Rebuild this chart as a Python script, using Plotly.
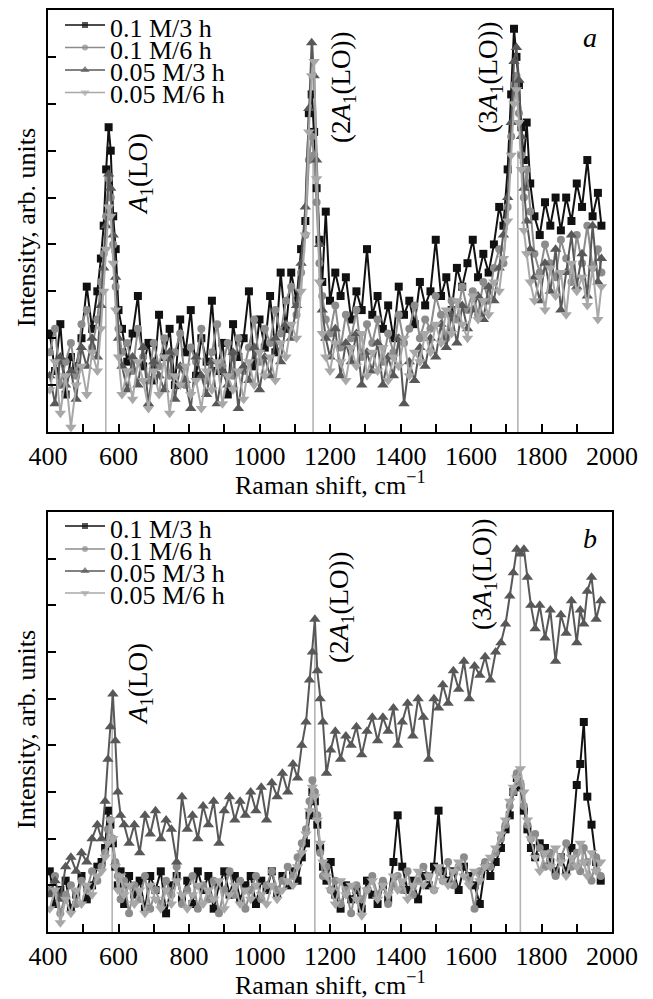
import plotly.graph_objects as go

W, H = 653, 999

# ---------------- Panel a data (arb. units) ----------------
a_x = [405, 420, 435, 450, 465, 480, 495, 510, 525, 540,
       550, 558, 565, 572, 578, 585, 592, 600, 610, 625,
       640, 655, 670, 685, 700, 715, 730, 745, 760, 775,
       790, 805, 820, 835, 850, 865, 880, 895, 910, 925,
       940, 955, 970, 985, 1000, 1015, 1030, 1045, 1060, 1075,
       1090, 1105, 1118, 1130, 1140, 1148, 1155, 1162, 1170, 1178,
       1188, 1200, 1215, 1230, 1245, 1260, 1275, 1290, 1305, 1320,
       1335, 1350, 1365, 1380, 1395, 1410, 1425, 1440, 1455, 1470,
       1485, 1500, 1515, 1530, 1545, 1560, 1575, 1590, 1605, 1620,
       1635, 1650, 1665, 1680, 1692, 1704, 1714, 1722, 1729, 1736,
       1743, 1750, 1758, 1768, 1780, 1795, 1810, 1825, 1840, 1855,
       1870, 1885, 1900, 1915, 1930, 1945, 1960, 1970]

a_01M_3h = [2.1, 1.3, 2.3, 0.8, 1.6, 1.4, 2.0, 3.1, 2.2, 3.0,
            3.7, 4.4, 5.6, 6.5, 6.0, 4.6, 3.9, 2.6, 2.2, 1.5,
            2.1, 2.9, 1.4, 1.9, 1.1, 2.5, 1.6, 2.2, 1.0, 2.4,
            1.7, 2.6, 1.2, 2.0, 1.5, 2.8, 1.3, 1.9, 0.8, 2.3,
            1.6, 2.0, 3.0, 1.4, 2.4, 1.8, 2.9, 1.7, 3.4, 2.2,
            3.4, 2.8, 3.9, 4.5, 6.8, 7.2, 6.4, 5.2, 4.1, 3.2,
            4.7, 2.8, 3.4, 2.9, 3.3, 2.4, 3.0, 2.6, 3.9, 2.5,
            2.9, 2.2, 2.7, 2.0, 3.1, 2.5, 2.8, 2.3, 3.2, 2.7,
            3.0, 4.1, 2.9, 3.3, 2.6, 3.5, 3.1, 3.6, 4.1, 3.3,
            3.8, 3.4, 4.0, 4.8, 4.4, 5.6, 7.2, 8.6, 8.0, 7.4,
            6.5, 5.8, 6.6, 5.3, 4.6, 4.2, 4.9, 4.4, 5.0, 4.3,
            5.0, 4.5, 5.3, 4.8, 5.8, 4.6, 5.1, 4.4]

a_01M_6h = [1.7, 2.2, 1.0, 1.5, 1.9, 1.2, 2.3, 2.6, 1.8, 2.4,
            3.2, 3.8, 4.6, 5.4, 5.0, 4.0, 3.1, 2.2, 1.7, 1.9,
            1.3, 2.2, 1.6, 1.1, 1.9, 1.4, 2.0, 1.2, 1.7, 2.1,
            1.0, 1.8, 1.5, 2.2, 1.1, 1.7, 2.3, 1.4, 1.9, 1.2,
            2.0, 1.3, 1.8, 2.4, 1.5, 2.2, 1.9, 2.6, 2.1, 2.8,
            3.1, 2.5, 3.4, 4.2, 5.8, 6.3, 5.9, 4.9, 3.6, 2.9,
            2.4, 2.1, 2.7, 1.8, 2.5, 2.0, 2.6, 1.6, 2.3, 1.9,
            2.4, 1.5, 2.1, 1.7, 2.5, 1.9, 2.2, 2.7, 2.0, 2.4,
            2.2, 2.9, 2.5, 2.0, 2.8, 2.4, 3.1, 2.6, 3.0, 2.5,
            3.2, 2.8, 3.5, 3.9, 3.6, 4.8, 6.3, 7.4, 7.6, 6.8,
            5.9, 5.0, 5.6, 4.7, 3.8, 3.4, 4.0, 3.6, 3.3, 4.1,
            3.7, 3.2, 4.2, 3.6, 4.4, 3.5, 3.9, 3.4]

a_005M_3h = [1.2, 0.6, 1.6, 1.0, 1.3, 0.7, 1.8, 1.4, 2.0, 1.6,
             2.7, 3.5, 4.4, 5.5, 5.2, 4.2, 3.3, 2.0, 1.4, 0.9,
             1.6, 1.0, 1.8, 0.6, 1.5, 1.2, 0.9, 1.7, 0.7, 1.4,
             1.1, 0.5, 1.6, 1.2, 0.8, 1.5, 0.6, 1.3, 1.0, 1.7,
             0.5, 1.4, 1.1, 1.8, 0.9, 1.6, 1.2, 2.0, 1.5, 2.3,
             2.0, 2.7, 3.6, 4.8, 6.9, 8.3, 7.6, 5.8, 4.0, 2.6,
             2.0, 1.6, 2.2, 1.2, 1.9, 1.5, 2.1, 1.0, 1.7, 1.3,
             1.9, 1.0, 1.6, 1.2, 2.0, 0.6, 1.5, 1.1, 1.8, 1.4,
             2.0, 1.6, 2.3, 1.8, 2.5, 1.9, 2.7, 2.2, 2.6, 2.9,
             2.4, 3.1, 2.8, 3.5, 4.2, 5.0, 6.6, 7.9, 8.2, 7.5,
             6.3, 5.2, 4.5, 3.9, 3.3, 2.8, 3.6, 3.0, 3.9, 2.6,
             3.4, 4.2, 3.1, 3.8, 2.9, 4.4, 3.2, 3.7]

a_005M_6h = [0.9, 1.5, 0.4, 1.2, 0.1, 1.0, 1.4, 0.8, 1.7, 1.3,
             2.2, 3.0, 3.9, 4.8, 4.6, 3.6, 2.6, 1.6, 0.8, 1.3,
             0.7, 1.5, 1.1, 0.5, 1.3, 0.8, 1.6, 0.4, 1.2, 1.0,
             1.4, 0.8, 1.1, 0.5, 1.3, 0.9, 1.5, 0.6, 1.2, 0.9,
             1.3, 0.7, 1.5, 1.0, 1.7, 1.2, 1.6, 1.1, 1.9, 1.6,
             2.3, 2.0, 3.0, 4.2, 6.4, 7.6, 7.9, 5.4, 3.2, 2.1,
             1.6, 1.3, 1.9, 1.5, 1.1, 1.8, 1.4, 2.1, 1.2, 1.7,
             1.3, 1.8, 1.1, 1.6, 1.4, 2.0, 1.2, 1.7, 1.5, 2.1,
             1.7, 2.3, 1.9, 2.6, 2.1, 2.8, 2.3, 2.0, 2.9, 2.4,
             2.8, 2.5, 3.2, 3.0, 3.7, 4.5, 5.9, 7.0, 7.3, 6.6,
             5.6, 4.3, 3.8, 3.2, 2.8, 3.3, 2.6, 3.5, 2.9, 3.4,
             2.5, 3.6, 3.0, 3.3, 2.7, 3.5, 2.4, 3.1]

a_spike_x = [564, 1152, 1733]
a_spike_top = [3.0, 8.3, 6.0]

# ---------------- Panel b data (arb. units) ----------------
b_x = [405, 420, 435, 450, 465, 480, 495, 510, 525, 540,
       552, 562, 570, 577, 584, 591, 598, 606, 616, 630,
       645, 660, 675, 690, 705, 720, 735, 750, 765, 780,
       795, 810, 825, 840, 855, 870, 885, 900, 915, 930,
       945, 960, 975, 990, 1005, 1020, 1035, 1050, 1065, 1080,
       1095, 1108, 1120, 1132, 1142, 1150, 1157, 1164, 1172, 1180,
       1190, 1202, 1215, 1230, 1245, 1260, 1275, 1290, 1305, 1320,
       1335, 1350, 1365, 1380, 1392, 1405, 1420, 1435, 1450, 1465,
       1480, 1495, 1508, 1520, 1535, 1550, 1565, 1580, 1595, 1610,
       1625, 1640, 1655, 1670, 1685, 1698, 1710, 1720, 1730, 1740,
       1750, 1760, 1770, 1782, 1795, 1810, 1825, 1840, 1855, 1870,
       1885, 1900, 1910, 1920, 1930, 1942, 1955, 1968]

b_01M_3h = [1.3, 0.6, 0.9, 1.1, 0.5, 0.8, 1.2, 0.7, 1.0, 1.4,
            1.5, 1.8, 2.6, 2.3, 1.9, 1.4, 1.0, 1.3, 0.6, 1.2,
            0.8, 1.1, 0.5, 1.2, 0.9, 1.3, 0.4, 1.0, 1.2, 0.7,
            1.1, 0.6, 1.3, 0.9, 1.2, 0.5, 1.0, 1.3, 0.8, 1.2,
            0.7, 1.0, 1.2, 0.6, 1.1, 0.9, 1.3, 0.8, 1.2, 1.0,
            1.3, 1.1, 1.6, 1.9, 2.5, 3.0, 2.8, 2.3, 1.8, 1.4,
            1.1, 1.5, 0.8, 0.5, 1.0, 0.7, 0.9, 0.5, 1.1, 0.8,
            0.6, 1.0, 0.7, 1.5, 2.5, 1.4, 0.9, 1.1, 0.7, 1.2,
            1.0, 1.4, 2.6, 1.3, 1.1, 1.3, 0.9, 1.4, 1.2, 1.0,
            0.6, 1.4, 1.2, 1.5, 1.8, 2.2, 2.5, 3.0, 3.3, 3.1,
            2.6, 2.2, 1.8, 1.6, 1.9, 1.8, 1.5, 1.3, 1.6, 1.3,
            1.8, 3.15, 3.6, 4.5, 2.9, 2.3, 1.5, 1.1]

b_01M_6h = [0.9, 1.2, 0.4, 0.8, 1.0, 0.6, 1.1, 0.9, 1.3, 1.1,
            1.4, 1.7, 2.2, 2.4, 2.0, 1.5, 1.2, 0.7, 1.1, 0.4,
            1.0, 0.7, 1.2, 0.5, 0.9, 0.6, 1.1, 0.8, 1.4, 0.6,
            0.9, 1.2, 0.5, 1.0, 0.7, 1.1, 0.4, 0.9, 1.3, 0.8,
            1.1, 0.5, 0.9, 1.2, 0.7, 1.0, 1.3, 0.9, 1.1, 1.4,
            1.2, 1.6, 1.9, 2.2, 2.8, 3.25, 3.0, 2.5, 1.7, 1.2,
            1.4, 0.9, 1.1, 0.6, 0.9, 0.4, 1.0, 0.7, 0.9, 1.2,
            0.8, 1.1, 0.6, 1.0, 1.2, 0.9, 1.3, 0.8, 1.1, 1.4,
            1.2, 0.9, 1.3, 1.1, 1.5, 1.0, 1.4, 1.6, 1.1, 0.5,
            1.3, 1.5, 1.4, 1.7, 2.0, 2.3, 2.7, 3.0, 3.4, 3.2,
            2.7, 2.3, 2.0, 2.1, 1.8, 1.4, 1.7, 1.2, 1.6, 1.9,
            1.4, 1.7, 1.3, 1.8, 1.5, 1.1, 1.6, 1.2]

b_005M_3h = [0.8, 1.1, 0.7, 1.4, 1.6, 1.3, 1.7, 1.5, 2.0, 2.3,
             2.0, 2.8, 3.7, 4.4, 5.1, 4.1, 3.0, 2.5, 2.3, 1.9,
             2.3, 1.7, 2.5, 2.1, 2.6, 2.0, 2.4, 2.2, 1.5, 2.9,
             2.2, 2.5, 2.0, 2.7, 2.3, 2.8, 1.9, 2.6, 2.9, 2.4,
             2.8, 2.5, 3.0, 2.6, 3.1, 2.4, 3.2, 2.9, 3.4, 3.0,
             3.6, 3.3, 4.0, 4.5, 5.4, 6.0, 6.7, 5.6, 5.0, 4.5,
             3.4, 3.9, 4.3, 3.7, 4.2, 4.0, 4.4, 3.8, 4.3, 4.6,
             4.1, 4.6, 4.3, 4.8, 4.0, 4.5, 4.9, 4.2, 5.0, 4.6,
             3.7, 5.0, 4.8, 5.3, 4.9, 5.6, 5.2, 5.8, 5.0, 5.7,
             5.5, 5.9, 5.4, 6.0, 6.2, 6.6, 7.2, 7.7, 8.2, 8.1,
             8.2, 7.6, 7.0, 6.5, 7.0, 6.3, 6.9, 5.8, 6.8, 6.4,
             7.1, 6.2, 6.9, 6.6, 7.3, 7.6, 6.7, 7.1]

b_005M_6h = [0.5, 0.9, 0.2, 0.7, 0.4, 0.9, 0.6, 1.0, 0.8, 1.2,
             1.3, 1.6, 1.9, 2.4, 2.0, 1.4, 0.9, 1.2, 0.8, 1.0,
             0.6, 0.9, 0.4, 1.0, 0.7, 0.5, 0.9, 0.6, 1.1, 0.8,
             0.5, 0.8, 1.0, 0.6, 0.9, 0.7, 1.1, 0.5, 0.8, 1.0,
             0.6, 0.9, 0.7, 1.0, 0.8, 0.6, 1.0, 0.7, 0.9, 1.1,
             1.0, 1.4, 1.7, 2.1, 2.6, 3.1, 2.9, 2.4, 1.9, 1.5,
             1.2, 0.9, 0.6, 1.1, 0.8, 1.0, 0.7, 0.35, 0.9, 1.1,
             0.7, 1.0, 0.8, 1.2, 0.9, 1.1, 0.7, 1.0, 1.3, 1.0,
             1.2, 0.9, 1.4, 1.1, 1.0, 1.3, 1.5, 1.2, 1.0, 1.3,
             1.1, 1.4, 1.6, 1.8, 2.1, 2.4, 2.8, 3.1, 3.3, 3.5,
             3.0, 2.4, 2.0, 1.6, 1.3, 1.7, 1.4, 1.8, 1.5, 1.2,
             1.6, 1.4, 1.9, 1.5, 1.2, 1.7, 1.3, 1.5]

b_spike_x = [582, 1157, 1740]
b_spike_top = [5.1, 6.7, 8.2]

# ---------------- styling ----------------
series_names = ["0.1 M/3 h", "0.1 M/6 h", "0.05 M/3 h", "0.05 M/6 h"]
colors = ["#111111", "#8c8c8c", "#585858", "#a8a8a8"]
symbols = ["square", "circle", "triangle-up", "triangle-down"]
msizes = [8, 8, 10, 10]
FONT = "Liberation Serif"

panels = [
    (a_x, [a_01M_3h, a_01M_6h, a_005M_3h, a_005M_6h], a_spike_x, a_spike_top, "x", "y"),
    (b_x, [b_01M_3h, b_01M_6h, b_005M_3h, b_005M_6h], b_spike_x, b_spike_top, "x2", "y2"),
]

fig = go.Figure()
for xs, ylist, sx, stop, xa, ya in panels:
    vx, vy = [], []
    for px_, top in zip(sx, stop):
        vx += [px_, px_, None]
        vy += [0, top, None]
    fig.add_trace(go.Scatter(x=vx, y=vy, mode="lines", xaxis=xa, yaxis=ya,
                             line=dict(color="#b4b4b4", width=1.6),
                             showlegend=False, hoverinfo="skip"))
    for name, ys, c, s, ms in zip(series_names, ylist, colors, symbols, msizes):
        fig.add_trace(go.Scatter(x=xs, y=ys, mode="lines+markers", name=name,
                                 xaxis=xa, yaxis=ya, showlegend=False,
                                 line=dict(color=c, width=2),
                                 marker=dict(symbol=s, size=ms, color=c,
                                             line=dict(width=0))))

# ---------------- custom legend (pixel overlay axis) ----------------
legend_rows = {"a": [25, 47.5, 70, 92.5], "b": [526, 549, 571, 593]}
legend_text_rows = {"a": [28, 50, 72, 94], "b": [529, 551, 573.5, 595]}
for key in ["a", "b"]:
    for i, (name, c, s, ms) in enumerate(zip(series_names, colors, symbols, msizes)):
        yy = legend_rows[key][i]
        fig.add_trace(go.Scatter(x=[65, 85, 105], y=[yy, yy, yy], mode="lines+markers",
                                 xaxis="x3", yaxis="y3", showlegend=False, hoverinfo="skip",
                                 line=dict(color=c, width=1.6),
                                 marker=dict(symbol=s, size=[0, ms - 2, 0], color=c,
                                             line=dict(width=0))))

annotations = []
for key in ["a", "b"]:
    for i, name in enumerate(series_names):
        annotations.append(dict(x=108, y=legend_text_rows[key][i], xref="x3", yref="y3",
                                text=name, showarrow=False, xanchor="left", yanchor="middle",
                                font=dict(family=FONT, size=26, color="black")))

peak_labels = [
    ("<i>A</i><sub>1</sub>(LO)", 140, 174),
    ("(2<i>A</i><sub>1</sub>(LO))", 343, 88),
    ("(3<i>A</i><sub>1</sub>(LO))", 490, 78),
    ("<i>A</i><sub>1</sub>(LO)", 140, 684),
    ("(2<i>A</i><sub>1</sub>(LO))", 341, 608),
    ("(3<i>A</i><sub>1</sub>(LO))", 484, 575),
]
for t, xx, yy in peak_labels:
    annotations.append(dict(x=xx, y=yy, xref="x3", yref="y3", text=t, showarrow=False,
                            textangle=-90, xanchor="center", yanchor="middle",
                            font=dict(family=FONT, size=27, color="black")))

for t, xx, yy in [("<i>a</i>", 590, 37), ("<i>b</i>", 590, 538)]:
    annotations.append(dict(x=xx, y=yy, xref="x3", yref="y3", text=t, showarrow=False,
                            xanchor="center", yanchor="middle",
                            font=dict(family=FONT, size=28, color="black")))

for yy in [228, 730]:
    annotations.append(dict(x=26, y=yy, xref="x3", yref="y3", text="Intensity, arb. units",
                            showarrow=False, textangle=-90, xanchor="center", yanchor="middle",
                            font=dict(family=FONT, size=26, color="black")))
for yy in [483, 983]:
    annotations.append(dict(x=330, y=yy, xref="x3", yref="y3",
                            text="Raman shift, cm<sup>\u22121</sup>",
                            showarrow=False, xanchor="center", yanchor="middle",
                            font=dict(family=FONT, size=26, color="black")))

xdom = [48 / W, 612 / W]
ya_dom = [1 - 432 / H, 1 - 10 / H]
yb_dom = [1 - 932 / H, 1 - 512 / H]

def xaxis_cfg(anchor):
    return dict(domain=xdom, anchor=anchor, range=[400, 2000], tick0=400, dtick=200,
                ticks="inside", ticklen=8, tickwidth=1.5, tickcolor="black",
                minor=dict(dtick=100, tick0=400, ticks="inside", ticklen=8, tickwidth=1.5,
                           tickcolor="black"),
                showline=True, linecolor="black", linewidth=2, mirror=True,
                showgrid=False, zeroline=False, automargin=False,
                tickfont=dict(family=FONT, size=26, color="black"))

def yaxis_cfg(anchor, dom):
    return dict(domain=dom, anchor=anchor, range=[0, 9], tickvals=[1, 2, 3, 4, 5, 6, 7, 8],
                ticks="inside", ticklen=8, tickwidth=1.5, tickcolor="black",
                showticklabels=False, showline=True, linecolor="black", linewidth=2,
                mirror=True, showgrid=False, zeroline=False, automargin=False)

fig.update_layout(
    template="none",
    width=W, height=H, margin=dict(l=0, r=0, t=0, b=0, pad=0, autoexpand=False),
    paper_bgcolor="white", plot_bgcolor="rgba(0,0,0,0)",
    showlegend=False,
    font=dict(family=FONT, color="black"),
    xaxis=xaxis_cfg("y"), yaxis=yaxis_cfg("x", ya_dom),
    xaxis2=xaxis_cfg("y2"), yaxis2=yaxis_cfg("x2", yb_dom),
    xaxis3=dict(domain=[0, 1], range=[0, W], visible=False, anchor="y3",
                fixedrange=True, automargin=False),
    yaxis3=dict(domain=[0, 1], range=[H, 0], visible=False, anchor="x3",
                fixedrange=True, automargin=False),
    annotations=annotations,
)

fig.write_html("out.html")
